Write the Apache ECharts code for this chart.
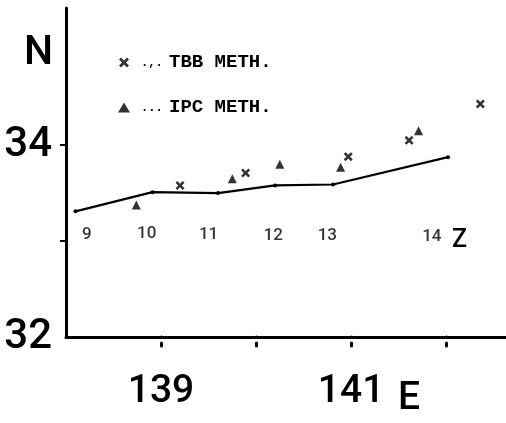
<!DOCTYPE html>
<html><head><meta charset="utf-8">
<script src="https://cdn.jsdelivr.net/npm/echarts@6/dist/echarts.min.js"></script>
<style>html,body{margin:0;padding:0;background:#fff}#c{width:506px;height:423px}</style>
</head><body><div id="c"></div>
<script>
// Boundary line (longitude, latitude)
var lineLon = [138.10, 138.91, 139.60, 140.20, 140.81, 142.02];
var lineLat = [33.31, 33.51, 33.50, 33.58, 33.59, 33.875];
// TBB method points
var tbbLon = [139.20, 139.89, 140.97, 141.61, 142.36];
var tbbLat = [33.58, 33.71, 33.88, 34.05, 34.43];
// IPC method points
var ipcLon = [138.74, 139.75, 140.25, 140.89, 141.71];
var ipcLat = [33.375, 33.65, 33.80, 33.77, 34.15];
// Zone labels
var zoneNames = ['9', '10', '11', '12', '13', '14'];
var zoneLon = [138.22, 138.85, 139.50, 140.18, 140.75, 141.85];
var zoneLat = [33.07, 33.08, 33.07, 33.06, 33.06, 33.04];
// Ticks and tick labels
var xTicks = [139, 140, 141, 142];
var xTickLabels = [139, 141];
var yTicks = [33, 34];
var yTickLabels = [32, 34];

function zip(a, b) { return a.map(function (v, i) { return [v, b[i]]; }); }

var crossPath = 'path://M0,2L2,0L5,3L8,0L10,2L7,5L10,8L8,10L5,7L2,10L0,8L3,5Z';

var chart = echarts.init(document.getElementById('c'));
chart.setOption({
  animation: false,
  backgroundColor: '#fff',
  grid: {left: 66, right: 0, top: 8, bottom: 86, containLabel: false},
  legend: {
    left: 113, top: 48, orient: 'vertical', itemGap: 26, itemWidth: 12, itemHeight: 10,
    data: ['TBB METH.', 'IPC METH.'],
    formatter: function (n) { return n === 'TBB METH.' ? '{d|.,.}' + n : '{d|...}' + n; },
    textStyle: {fontFamily: 'Liberation Mono', fontSize: 19, color: '#000', fontWeight: 'bold',
      rich: {d: {fontFamily: 'Liberation Mono', fontSize: 12, color: '#000', fontWeight: 'bold', width: 28, padding: [0, 0, 0, 6]}}}
  },
  xAxis: {
    type: 'value', min: 138, max: 142.63, interval: 1,
    splitLine: {show: false},
    axisLine: {lineStyle: {color: '#000', width: 3}},
    axisTick: {customValues: xTicks, length: 9, lineStyle: {color: '#000', width: 3, type: [0.1, 6, 3, 30], cap: 'round'}},
    axisLabel: {customValues: xTickLabels, margin: 36, color: '#000', fontFamily: 'Roboto', fontWeight: 500, fontSize: 39}
  },
  yAxis: {
    type: 'value', min: 32, max: 35.43, interval: 1,
    splitLine: {show: false},
    axisLine: {lineStyle: {color: '#000', width: 3}},
    axisTick: {customValues: yTicks, length: 6, lineStyle: {color: '#000', width: 2}},
    axisLabel: {customValues: yTickLabels, margin: 14, color: '#000', fontFamily: 'Roboto', fontWeight: 500, fontSize: 42}
  },
  graphic: [
    {type: 'text', left: 24, top: 33, style: {text: 'N', font: '500 41px Roboto', fill: '#000'}},
    {type: 'text', left: 398, top: 380, style: {text: 'E', font: '500 39px Roboto', fill: '#000'}},
    {type: 'text', left: 452, top: 228, style: {text: 'Z', font: '500 25px Roboto', fill: '#000'}}
  ],
  series: [
    {type: 'line', data: zip(lineLon, lineLat), symbol: 'circle', symbolSize: 4,
      lineStyle: {color: '#000', width: 2.2}, itemStyle: {color: '#000'}, z: 2},
    {name: 'TBB METH.', type: 'scatter', data: zip(tbbLon, tbbLat), symbol: crossPath, symbolSize: 9,
      itemStyle: {color: '#000'}},
    {name: 'IPC METH.', type: 'scatter', data: zip(ipcLon, ipcLat), symbol: 'triangle', symbolSize: 9,
      itemStyle: {color: '#000'}},
    {type: 'scatter', data: zip(zoneLon, zoneLat), symbolSize: 0, silent: true,
      label: {show: true, position: 'inside', color: '#000', fontFamily: 'Roboto', fontWeight: 500, fontSize: 17,
        formatter: function (p) { return zoneNames[p.dataIndex]; }}}
  ]
});
</script></body></html>
